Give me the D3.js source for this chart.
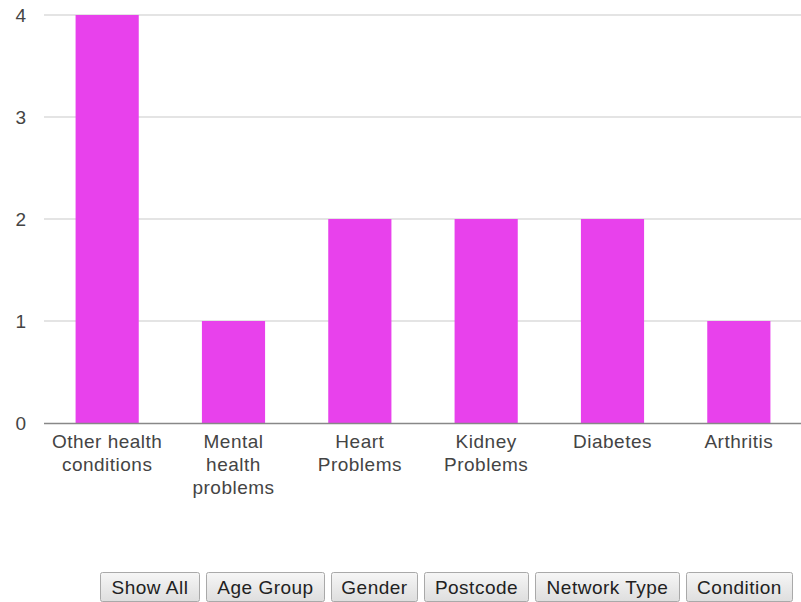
<!DOCTYPE html>
<html><head><meta charset="utf-8">
<script src="https://cdn.jsdelivr.net/npm/d3@7"></script>
<style>
body{margin:0;background:#fff;}
svg{display:block;font-family:"Liberation Sans",Arial,sans-serif;}
</style></head>
<body><svg id="c" width="801" height="602"></svg>
<script>
const categories = [["Other health","conditions"],["Mental","health","problems"],["Heart","Problems"],["Kidney","Problems"],["Diabetes"],["Arthritis"]];
const values = [4,1,2,2,2,1];
const yTicks = [0,1,2,3,4];
const buttons = ["Show All","Age Group","Gender","Postcode","Network Type","Condition"];

(function(){
const svg = d3.select("#c");
const mLeft = 44, mRight = 802, mTop = 15, mBottom = 423;
const fs = 19, ls = "0.5px";
const x = d3.scaleBand().domain(d3.range(categories.length)).range([mLeft,mRight]).paddingInner(0.5).paddingOuter(0.25);
const y = d3.scaleLinear().domain([0,4]).range([mBottom,mTop]);

svg.append("g").selectAll("line").data(yTicks.filter(d=>d>0)).join("line")
  .attr("x1",mLeft).attr("x2",801).attr("y1",d=>y(d)).attr("y2",d=>y(d))
  .attr("stroke","#e4e4e4").attr("stroke-width",2);

const yAxis = d3.axisLeft(y).tickValues(yTicks).tickSize(0).tickPadding(0).tickFormat(d3.format("d"));
const ga = svg.append("g").attr("transform",`translate(${mLeft-18},0)`).call(yAxis);
ga.select(".domain").remove();
ga.selectAll("text").attr("font-size",fs).attr("fill","#444").attr("font-family","Liberation Sans, Arial, sans-serif").attr("dy","0.32em");

svg.append("g").selectAll("rect").data(values).join("rect")
  .attr("x",(d,i)=>x(i)).attr("width",x.bandwidth())
  .attr("y",d=>y(d)).attr("height",d=>y(0)-y(d))
  .attr("fill","#e841ec");

svg.append("line").attr("x1",mLeft).attr("x2",801).attr("y1",mBottom+0.5).attr("y2",mBottom+0.5)
  .attr("stroke","#888").attr("stroke-width",1.5);

const xl = svg.append("g").selectAll("text").data(categories).join("text")
  .attr("text-anchor","middle").attr("font-size",fs).attr("letter-spacing",ls).attr("fill","#444")
  .attr("x",(d,i)=>x(i)+x.bandwidth()/2).attr("y",448);
xl.selectAll("tspan").data(d=>d).join("tspan")
  .attr("x",function(){return this.parentNode.getAttribute("x");})
  .attr("dy",(d,i)=>i===0?0:23).text(d=>d);

const bx = [100,206,331,424,535,686];
const bw = [100,119,87,105,145,107];
const gradient = svg.append("defs").append("linearGradient").attr("id","bg").attr("x1",0).attr("x2",0).attr("y1",0).attr("y2",1);
gradient.append("stop").attr("offset","0%").attr("stop-color","#f6f6f6");
gradient.append("stop").attr("offset","100%").attr("stop-color","#dedede");
const bg = svg.append("g").selectAll("g").data(buttons).join("g")
  .attr("transform",(d,i)=>`translate(${bx[i]},572)`);
bg.append("rect").attr("x",0.5).attr("y",0.5).attr("width",(d,i)=>bw[i]-1).attr("height",29)
  .attr("fill","url(#bg)").attr("stroke","#a9a9a9").attr("rx",2);
bg.append("text").attr("x",(d,i)=>bw[i]/2).attr("y",22).attr("text-anchor","middle")
  .attr("font-size",fs).attr("letter-spacing",ls).attr("fill","#222").text(d=>d);
})();
</script></body></html>
